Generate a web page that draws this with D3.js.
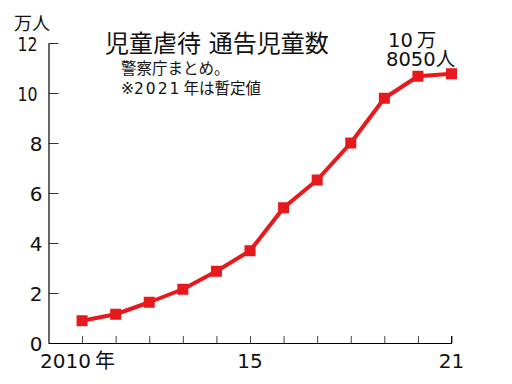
<!DOCTYPE html>
<html>
<head>
<meta charset="utf-8">
<script src="https://cdn.jsdelivr.net/npm/d3@7"></script>
<style>
body { margin: 0; background: #fff; }
svg text { font-family: "DejaVu Sans", "Noto Sans CJK JP", sans-serif; fill: #111; }
</style>
</head>
<body>
<div id="chart"></div>
<script>
// 児童虐待 通告児童数 (万人)
let years = [2010, 2011, 2012, 2013, 2014, 2015, 2016, 2017, 2018, 2019, 2020, 2021];
let counts = [0.89, 1.15, 1.63, 2.15, 2.87, 3.69, 5.41, 6.52, 8.00, 9.79, 10.67, 10.77];
let yTicks = [0, 2, 4, 6, 8, 10, 12];
let xLabels = [[2010, "2010"], [2015, "15"], [2021, "21"]];

var width = 512, height = 384;
var svg = d3.select("#chart").append("svg")
    .attr("width", width)
    .attr("height", height);

var x = d3.scaleLinear().domain([2009, 2021]).range([48.5, 451.5]);
var y = d3.scaleLinear().domain([0, 12]).range([343, 43]);

// y axis, ticks pointing inward
var yAxis = svg.append("g")
    .attr("transform", "translate(" + x(2009) + ",0)")
    .call(d3.axisRight(y).tickValues(yTicks).tickSize(10).tickSizeOuter(0).tickFormat(""));
yAxis.select(".domain").attr("stroke", "#000").attr("stroke-width", 1.2);
yAxis.selectAll(".tick line").attr("stroke", "#333");

svg.selectAll(".ylab")
    .data(yTicks)
    .enter()
    .append("text")
    .attr("class", "ylab")
    .attr("x", function (d) { return d >= 10 ? 37.5 : 42.5; })
    .attr("y", function (d) { return y(d) + 8; })
    .attr("text-anchor", "end")
    .attr("textLength", function (d) { return d >= 10 ? 20 : null; })
    .attr("lengthAdjust", "spacingAndGlyphs")
    .style("font-size", "20px")
    .text(function (d) { return d; });

svg.append("text")
    .attr("x", 14)
    .attr("y", 30)
    .style("font-size", "18px")
    .text("万人");

// x axis, ticks pointing up
var xAxis = svg.append("g")
    .attr("transform", "translate(0," + y(0) + ")")
    .call(d3.axisTop(x).tickValues(years).tickSize(7).tickSizeOuter(0).tickFormat(""));
xAxis.select(".domain").attr("stroke", "#000").attr("stroke-width", 1.2);
xAxis.selectAll(".tick line").attr("stroke", "#444");
svg.append("line")
    .attr("x1", x(2021)).attr("x2", x(2021))
    .attr("y1", y(0) - 7).attr("y2", y(0))
    .attr("stroke", "#000");

var xl = svg.selectAll(".xlab")
    .data(xLabels)
    .enter()
    .append("text")
    .attr("class", "xlab")
    .attr("x", function (d) { return d[0] == 2010 ? 40 : x(d[0]); })
    .attr("y", 368)
    .attr("text-anchor", function (d) { return d[0] == 2010 ? "start" : "middle"; })
    .style("font-size", "20px")
    .text(function (d) { return d[1]; });
xl.filter(function (d) { return d[0] == 2010; })
    .append("tspan")
    .attr("dx", 4)
    .text("年");

// line + markers
var line = d3.line()
    .x(function (d, i) { return x(years[i]); })
    .y(function (d) { return y(d); });

svg.append("path")
    .datum(counts)
    .attr("d", line)
    .attr("fill", "none")
    .attr("stroke", "#e8191c")
    .attr("stroke-width", 4)
    .attr("stroke-linejoin", "round");

svg.selectAll(".pt")
    .data(counts)
    .enter()
    .append("rect")
    .attr("class", "pt")
    .attr("x", function (d, i) { return x(years[i]) - 5.5; })
    .attr("y", function (d) { return y(d) - 5.5; })
    .attr("width", 11)
    .attr("height", 11)
    .attr("fill", "#e8191c");

// titles
svg.append("text")
    .attr("x", 105)
    .attr("y", 52)
    .style("font-size", "24px")
    .text("児童虐待 通告児童数");

svg.append("text")
    .attr("x", 121)
    .attr("y", 74)
    .style("font-size", "15.5px")
    .text("警察庁まとめ。");

var note = svg.append("text")
    .attr("x", 121)
    .attr("y", 94)
    .style("font-size", "15.5px");
note.append("tspan").text("※");
note.append("tspan").style("letter-spacing", "2px").text("2021");
note.append("tspan").attr("dx", 2).text("年は暫定値");

// annotation
var ann1 = svg.append("text")
    .attr("x", 388)
    .attr("y", 47)
    .style("font-size", "19.5px");
ann1.append("tspan").text("10");
ann1.append("tspan").attr("dx", 4).text("万");

svg.append("text")
    .attr("x", 386)
    .attr("y", 66)
    .style("font-size", "19.5px")
    .text("8050人");
</script>
</body>
</html>
